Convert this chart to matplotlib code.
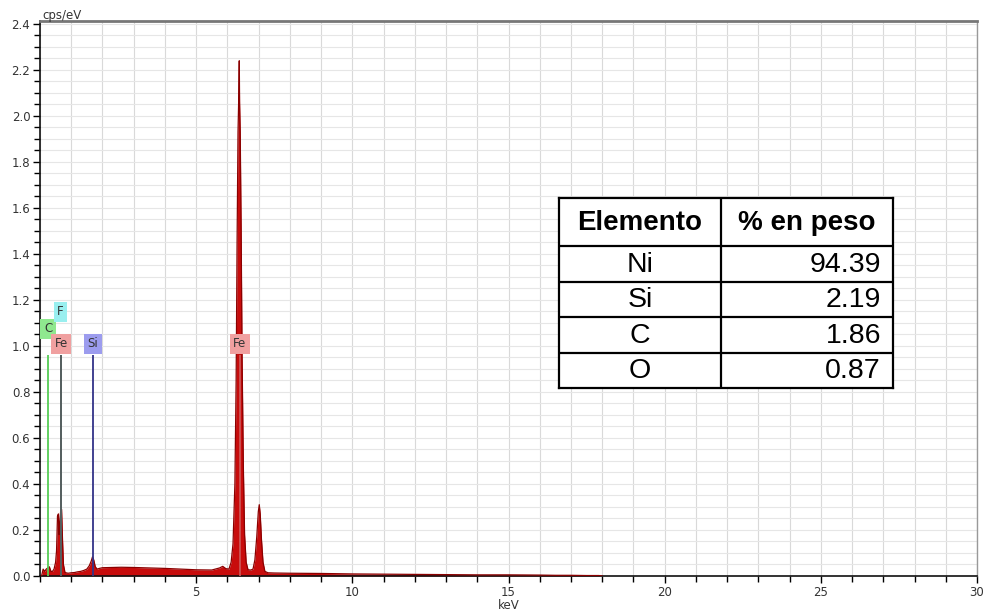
import matplotlib
matplotlib.use("Agg")
import matplotlib.pyplot as plt
from matplotlib.ticker import MultipleLocator

# espectro EDS (keV, cps/eV)
energia = [0.05, 0.10, 0.15, 0.20, 0.25, 0.30, 0.35, 0.40, 0.45, 0.50, 0.53, 0.56, 0.59,
           0.61, 0.63, 0.66, 0.69, 0.72, 0.75, 0.80, 0.90, 1.00, 1.10, 1.20, 1.30, 1.40,
           1.50, 1.58, 1.64, 1.68, 1.72, 1.77, 1.83, 1.90, 2.00, 2.30, 2.60, 3.00, 3.50,
           4.00, 4.50, 5.00, 5.50, 5.75, 5.85, 5.95, 6.05, 6.12, 6.18, 6.24, 6.28, 6.31,
           6.34, 6.36, 6.38, 6.39, 6.41, 6.44, 6.47, 6.51, 6.55, 6.60, 6.66, 6.75, 6.82,
           6.88, 6.94, 6.99, 7.02, 7.05, 7.09, 7.14, 7.20, 7.30, 7.50, 8.00, 9.00, 10.0,
           11.0, 12.0, 13.0, 14.0, 15.0, 16.0, 16.5, 17.0, 17.5, 17.9, 18.0]
cps = [0.0, 0.03, 0.02, 0.03, 0.035, 0.04, 0.02, 0.02, 0.03, 0.06, 0.11, 0.26, 0.27,
       0.18, 0.22, 0.28, 0.29, 0.16, 0.05, 0.015, 0.012, 0.014, 0.015, 0.018, 0.02, 0.024,
       0.03, 0.045, 0.065, 0.083, 0.07, 0.04, 0.03, 0.033, 0.036, 0.037, 0.038, 0.037, 0.035,
       0.033, 0.03, 0.027, 0.026, 0.035, 0.042, 0.032, 0.03, 0.06, 0.14, 0.40, 0.85, 1.45,
       1.93, 2.06, 2.24, 2.06, 1.93, 1.50, 0.95, 0.48, 0.18, 0.06, 0.027, 0.026, 0.03,
       0.07, 0.17, 0.28, 0.31, 0.27, 0.16, 0.06, 0.02, 0.014, 0.013, 0.012, 0.011, 0.009,
       0.008, 0.007, 0.006, 0.005, 0.005, 0.004, 0.003, 0.003, 0.002, 0.002, 0.0]

# marcadores de elementos
marcas = ["C", "F", "Fe", "Si", "Fe"]
marcas_kev = [0.26, 0.66, 0.68, 1.70, 6.40]
marcas_etq_y = [1.074, 1.148, 1.01, 1.01, 1.01]
marcas_linea = ["#55cc55", "#55cccc", "#555555", "#333388", "#cc5555"]
marcas_fondo = ["#8fe88f", "#99efef", "#f0a0a0", "#9c9cee", "#f0a0a0"]

# tabla de composicion
tabla_elem = ["Ni", "Si", "C", "O"]
tabla_peso = ["94.39", "2.19", "1.86", "0.87"]

fig = plt.figure(figsize=(9.84, 6.10), dpi=100)
ax = fig.add_axes([40 / 984, 34 / 610, 937 / 984, 555 / 610])

ax.set_xlim(0, 30)
ax.set_ylim(0, 2.413)

# rejilla
ax.xaxis.set_major_locator(MultipleLocator(5))
ax.xaxis.set_minor_locator(MultipleLocator(1))
ax.yaxis.set_major_locator(MultipleLocator(0.2))
ax.yaxis.set_minor_locator(MultipleLocator(0.05))
ax.grid(which="both", axis="x", color="#d9d9d9", lw=0.8, zorder=0)
ax.grid(which="both", axis="y", color="#e6e6e6", lw=0.8, zorder=0)
ax.set_axisbelow(True)

ax.fill_between(energia, cps, 0, color="#c80c0c", lw=0, zorder=2)
ax.plot(energia, cps, color="#8b0000", lw=0.9, zorder=3)

for nombre, kev, y, cl, cf in zip(marcas, marcas_kev, marcas_etq_y, marcas_linea, marcas_fondo):
    ax.vlines(kev, 0, 0.96, color=cl, lw=1.3, zorder=4)
    ax.text(kev, y, nombre, ha="center", va="center", fontsize=8.5, color="#333333",
            zorder=6, bbox=dict(boxstyle="square,pad=0.3", fc=cf, ec="none"))

ax.tick_params(axis="both", which="major", direction="out", length=5, width=1,
               labelsize=8.5, labelcolor="#333333", pad=2)
ax.tick_params(axis="both", which="minor", direction="out", length=4, width=1)
ax.set_xticks([5, 10, 15, 20, 25, 30])
ax.set_xticklabels(["5", "10", "15", "20", "25", "30"])

for s in ["left", "bottom"]:
    ax.spines[s].set_color("#111111")
    ax.spines[s].set_linewidth(1.2)
ax.spines["top"].set_color("#777777")
ax.spines["top"].set_linewidth(2)
ax.spines["right"].set_color("#999999")
ax.spines["right"].set_linewidth(1)

fig.text(42 / 984, 1 - 15 / 610, "cps/eV", fontsize=8.5, color="#333333", va="center", ha="left")
ax.set_xlabel("keV", fontsize=8.5, color="#333333", labelpad=0)

# tabla
tx = fig.add_axes([559 / 984, (610 - 388) / 610, 334 / 984, 190 / 610], zorder=10)
tx.set_xlim(0, 334)
tx.set_ylim(190, 0)
tx.set_xticks([])
tx.set_yticks([])
tx.set_facecolor("white")
for s in tx.spines.values():
    s.set_linewidth(1.6)
    s.set_color("black")

fila_h = 35.5
cab_h = 190 - fila_h * len(tabla_elem)
tx.axvline(162, color="black", lw=1.6)
for i in range(len(tabla_elem)):
    tx.axhline(cab_h + i * fila_h, color="black", lw=1.6)

tfont = ["Liberation Sans", "DejaVu Sans"]
tx.text(81, cab_h / 2 + 1, "Elemento", ha="center", va="center", fontsize=20,
        fontweight="bold", family=tfont)
tx.text(248, cab_h / 2 + 1, "% en peso", ha="center", va="center", fontsize=20,
        fontweight="bold", family=tfont)
for i, (el, p) in enumerate(zip(tabla_elem, tabla_peso)):
    yc = cab_h + (i + 0.5) * fila_h + 1
    tx.text(81, yc, el, ha="center", va="center", fontsize=20.5, family=tfont)
    tx.text(322, yc, p, ha="right", va="center", fontsize=20.5, family=tfont)

fig.savefig("out.png", dpi=100)
